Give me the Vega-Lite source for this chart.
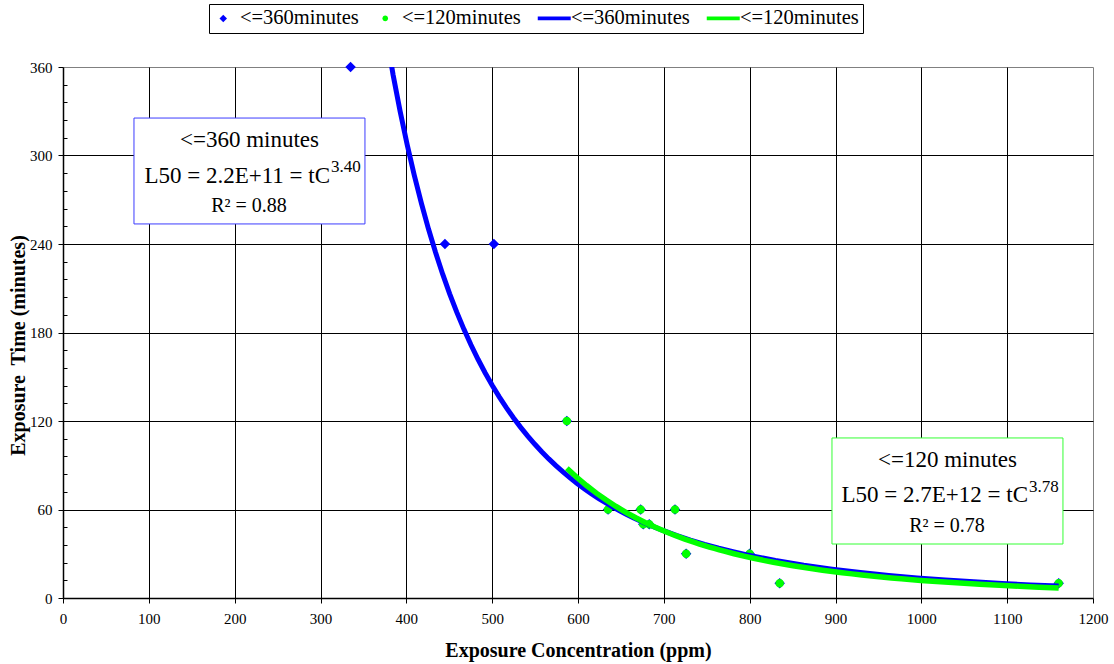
{
  "$schema": "https://vega.github.io/schema/vega-lite/v6.json",
  "width": 1030,
  "height": 531,
  "autosize": {"type": "none"},
  "padding": {"left": 63, "top": 67, "right": 21, "bottom": 66},
  "background": "white",
  "config": {
    "font": "Liberation Serif",
    "view": {"stroke": "#808080", "strokeWidth": 1},
    "text": {"font": "Liberation Serif", "color": "black", "baseline": "alphabetic"},
    "legend": {"labelFont": "Liberation Serif"},
    "axis": {
      "domainColor": "black",
      "domainWidth": 1.5,
      "tickColor": "black",
      "tickWidth": 1,
      "labelColor": "black",
      "titleColor": "black",
      "gridColor": "black",
      "gridWidth": 1,
      "labelFont": "Liberation Serif",
      "titleFont": "Liberation Serif",
      "labelFontSize": 15,
      "titleFontSize": 20,
      "titleFontWeight": "bold",
      "labelFlush": false
    }
  },
  "datasets": {
    "tox": [
      {"c": 335, "t": 360, "series": "pts360", "fit": "fit360"},
      {"c": 445, "t": 240, "series": "pts360", "fit": "fit360"},
      {"c": 502, "t": 240, "series": "pts360", "fit": "fit360"},
      {"c": 587, "t": 120, "series": "pts360", "fit": "fit360"},
      {"c": 635, "t": 60, "series": "pts360", "fit": "fit360"},
      {"c": 673, "t": 60, "series": "pts360", "fit": "fit360"},
      {"c": 713, "t": 60, "series": "pts360", "fit": "fit360"},
      {"c": 676, "t": 50, "series": "pts360", "fit": "fit360"},
      {"c": 683, "t": 50, "series": "pts360", "fit": "fit360"},
      {"c": 726, "t": 30, "series": "pts360", "fit": "fit360"},
      {"c": 800, "t": 30, "series": "pts360", "fit": "fit360"},
      {"c": 835, "t": 10, "series": "pts360", "fit": "fit360"},
      {"c": 1160, "t": 10, "series": "pts360", "fit": "fit360"},
      {"c": 587, "t": 120, "series": "pts120", "fit": "fit120"},
      {"c": 635, "t": 60, "series": "pts120", "fit": "fit120"},
      {"c": 673, "t": 60, "series": "pts120", "fit": "fit120"},
      {"c": 713, "t": 60, "series": "pts120", "fit": "fit120"},
      {"c": 676, "t": 50, "series": "pts120", "fit": "fit120"},
      {"c": 683, "t": 50, "series": "pts120", "fit": "fit120"},
      {"c": 726, "t": 30, "series": "pts120", "fit": "fit120"},
      {"c": 800, "t": 30, "series": "pts120", "fit": "fit120"},
      {"c": 835, "t": 10, "series": "pts120", "fit": "fit120"},
      {"c": 1160, "t": 10, "series": "pts120", "fit": "fit120"}
    ],
    "note": [{"note": "fit"}]
  },
  "layer": [
    {
      "data": {"name": "tox"},
      "transform": [{"filter": "datum.series === 'pts360'"}],
      "mark": {"type": "point", "filled": true, "opacity": 1, "size": 784, "strokeWidth": 0},
      "encoding": {
        "x": {"field": "c", "type": "quantitative", "title": "Exposure Concentration (ppm)", "scale": {"domain": [0, 1200], "nice": false, "zero": false},
          "axis": {"values": [0, 100, 200, 300, 400, 500, 600, 700, 800, 900, 1000, 1100, 1200], "format": "d", "tickSize": 5, "labelPadding": 8, "titlePadding": 14, "gridOpacity": {"condition": {"test": "datum.value > 0 && datum.value < 1200", "value": 1}, "value": 0}}},
        "y": {"field": "t", "type": "quantitative", "title": "Exposure\u00a0 Time (minutes)", "scale": {"domain": [0, 360], "nice": false, "zero": false},
          "axis": {"values": [0, 12, 24, 36, 48, 60, 72, 84, 96, 108, 120, 132, 144, 156, 168, 180, 192, 204, 216, 228, 240, 252, 264, 276, 288, 300, 312, 324, 336, 348, 360], "labelExpr": "datum.value % 60 === 0 ? datum.label : ''", "labelOverlap": false, "tickSize": {"condition": {"test": "datum.value % 60 === 0", "value": 5}, "value": -4}, "labelPadding": 6, "gridOpacity": {"condition": {"test": "datum.value % 60 === 0 && datum.value > 0 && datum.value < 360", "value": 1}, "value": 0}, "titleX": -39, "titleY": 278, "titleAlign": "center", "titleBaseline": "alphabetic", "titleAngle": -90}},
        "color": {
          "field": "series", "type": "nominal",
          "scale": {"domain": ["pts360", "pts120", "fit360", "fit120"], "range": ["#0000FF", "#00FF00", "#0000FF", "#00FF00"]},
          "legend": {
            "title": null, "orient": "none", "legendX": 146, "legendY": -63, "direction": "horizontal",
            "labelExpr": "datum.value === 'pts360' || datum.value === 'fit360' ? '<=360minutes' : '<=120minutes'",
            "labelFont": "Liberation Serif", "labelFontSize": 20.5, "labelColor": "black",
            "symbolSize": 400, "symbolStrokeWidth": 0, "symbolOpacity": 1,
            "labelOffset": 6.5, "columnPadding": 16, "padding": 4,
            "strokeColor": "black", "fillColor": "white",
            "encode": {"symbols": {"update": {"fill": {"scale": "color", "field": "value"}, "stroke": {"value": "transparent"}, "opacity": {"value": 1}}}}
          }
        },
        "shape": {
          "field": "series", "type": "nominal",
          "scale": {"domain": ["pts360", "pts120", "fit360", "fit120"], "range": ["M-0.375,0L0,-0.375L0.375,0L0,0.375Z", "M-0.28,0A0.28,0.28,0,1,1,0.28,0A0.28,0.28,0,1,1,-0.28,0Z", "M-1.65,-0.19H1.65V0.19H-1.65Z", "M-1.65,-0.19H1.65V0.19H-1.65Z"]},
          "legend": {
            "title": null, "orient": "none", "legendX": 146, "legendY": -63, "direction": "horizontal",
            "labelExpr": "datum.value === 'pts360' || datum.value === 'fit360' ? '<=360minutes' : '<=120minutes'",
            "labelFont": "Liberation Serif", "labelFontSize": 20.5, "labelColor": "black",
            "symbolSize": 400, "symbolStrokeWidth": 0, "symbolOpacity": 1,
            "labelOffset": 6.5, "columnPadding": 16, "padding": 4,
            "strokeColor": "black", "fillColor": "white",
            "encode": {"symbols": {"update": {"fill": {"scale": "color", "field": "value"}, "stroke": {"value": "transparent"}, "opacity": {"value": 1}}}}
          }
        }
      }
    },
    {
      "data": {"name": "tox"},
      "transform": [{"filter": "datum.series === 'pts120'"}],
      "mark": {"type": "point", "filled": true, "opacity": 1, "size": 922, "strokeWidth": 0},
      "encoding": {
        "x": {"field": "c", "type": "quantitative", "title": "Exposure Concentration (ppm)", "scale": {"domain": [0, 1200], "nice": false, "zero": false},
          "axis": {"values": [0, 100, 200, 300, 400, 500, 600, 700, 800, 900, 1000, 1100, 1200], "format": "d", "tickSize": 5, "labelPadding": 8, "titlePadding": 14, "gridOpacity": {"condition": {"test": "datum.value > 0 && datum.value < 1200", "value": 1}, "value": 0}}},
        "y": {"field": "t", "type": "quantitative", "title": "Exposure\u00a0 Time (minutes)", "scale": {"domain": [0, 360], "nice": false, "zero": false},
          "axis": {"values": [0, 12, 24, 36, 48, 60, 72, 84, 96, 108, 120, 132, 144, 156, 168, 180, 192, 204, 216, 228, 240, 252, 264, 276, 288, 300, 312, 324, 336, 348, 360], "labelExpr": "datum.value % 60 === 0 ? datum.label : ''", "labelOverlap": false, "tickSize": {"condition": {"test": "datum.value % 60 === 0", "value": 5}, "value": -4}, "labelPadding": 6, "gridOpacity": {"condition": {"test": "datum.value % 60 === 0 && datum.value > 0 && datum.value < 360", "value": 1}, "value": 0}, "titleX": -39, "titleY": 278, "titleAlign": "center", "titleBaseline": "alphabetic", "titleAngle": -90}},
        "color": {
          "field": "series", "type": "nominal",
          "scale": {"domain": ["pts360", "pts120", "fit360", "fit120"], "range": ["#0000FF", "#00FF00", "#0000FF", "#00FF00"]}
        },
        "shape": {
          "field": "series", "type": "nominal",
          "scale": {"domain": ["pts360", "pts120", "fit360", "fit120"], "range": ["M-0.375,0L0,-0.375L0.375,0L0,0.375Z", "M-0.28,0A0.28,0.28,0,1,1,0.28,0A0.28,0.28,0,1,1,-0.28,0Z", "M-1.65,-0.19H1.65V0.19H-1.65Z", "M-1.65,-0.19H1.65V0.19H-1.65Z"]}
        }
      }
    },
    {
      "data": {"name": "tox"},
      "transform": [
        {"filter": "datum.fit === 'fit360'"},
        {"regression": "t", "on": "c", "method": "pow", "groupby": ["fit"]}
      ],
      "mark": {"type": "line", "strokeWidth": 5, "clip": true},
      "encoding": {
        "x": {"field": "c", "type": "quantitative", "title": "Exposure Concentration (ppm)", "scale": {"domain": [0, 1200], "nice": false, "zero": false},
          "axis": {"values": [0, 100, 200, 300, 400, 500, 600, 700, 800, 900, 1000, 1100, 1200], "format": "d", "tickSize": 5, "labelPadding": 8, "titlePadding": 14, "gridOpacity": {"condition": {"test": "datum.value > 0 && datum.value < 1200", "value": 1}, "value": 0}}},
        "y": {"field": "t", "type": "quantitative", "title": "Exposure\u00a0 Time (minutes)", "scale": {"domain": [0, 360], "nice": false, "zero": false},
          "axis": {"values": [0, 12, 24, 36, 48, 60, 72, 84, 96, 108, 120, 132, 144, 156, 168, 180, 192, 204, 216, 228, 240, 252, 264, 276, 288, 300, 312, 324, 336, 348, 360], "labelExpr": "datum.value % 60 === 0 ? datum.label : ''", "labelOverlap": false, "tickSize": {"condition": {"test": "datum.value % 60 === 0", "value": 5}, "value": -4}, "labelPadding": 6, "gridOpacity": {"condition": {"test": "datum.value % 60 === 0 && datum.value > 0 && datum.value < 360", "value": 1}, "value": 0}, "titleX": -39, "titleY": 278, "titleAlign": "center", "titleBaseline": "alphabetic", "titleAngle": -90}},
        "color": {
          "field": "fit", "type": "nominal",
          "scale": {"domain": ["pts360", "pts120", "fit360", "fit120"], "range": ["#0000FF", "#00FF00", "#0000FF", "#00FF00"]}
        }
      }
    },
    {
      "data": {"name": "tox"},
      "transform": [
        {"filter": "datum.fit === 'fit120'"},
        {"regression": "t", "on": "c", "method": "pow", "groupby": ["fit"]}
      ],
      "mark": {"type": "line", "strokeWidth": 5.5, "clip": true},
      "encoding": {
        "x": {"field": "c", "type": "quantitative", "title": "Exposure Concentration (ppm)", "scale": {"domain": [0, 1200], "nice": false, "zero": false},
          "axis": {"values": [0, 100, 200, 300, 400, 500, 600, 700, 800, 900, 1000, 1100, 1200], "format": "d", "tickSize": 5, "labelPadding": 8, "titlePadding": 14, "gridOpacity": {"condition": {"test": "datum.value > 0 && datum.value < 1200", "value": 1}, "value": 0}}},
        "y": {"field": "t", "type": "quantitative", "title": "Exposure\u00a0 Time (minutes)", "scale": {"domain": [0, 360], "nice": false, "zero": false},
          "axis": {"values": [0, 12, 24, 36, 48, 60, 72, 84, 96, 108, 120, 132, 144, 156, 168, 180, 192, 204, 216, 228, 240, 252, 264, 276, 288, 300, 312, 324, 336, 348, 360], "labelExpr": "datum.value % 60 === 0 ? datum.label : ''", "labelOverlap": false, "tickSize": {"condition": {"test": "datum.value % 60 === 0", "value": 5}, "value": -4}, "labelPadding": 6, "gridOpacity": {"condition": {"test": "datum.value % 60 === 0 && datum.value > 0 && datum.value < 360", "value": 1}, "value": 0}, "titleX": -39, "titleY": 278, "titleAlign": "center", "titleBaseline": "alphabetic", "titleAngle": -90}},
        "color": {
          "field": "fit", "type": "nominal",
          "scale": {"domain": ["pts360", "pts120", "fit360", "fit120"], "range": ["#0000FF", "#00FF00", "#0000FF", "#00FF00"]}
        }
      }
    },
    {
      "data": {"name": "note"},
      "mark": {"type": "rect", "fill": "white", "stroke": "#3c3cff", "strokeWidth": 1},
      "encoding": {
        "x": {"datum": 82.7, "type": "quantitative", "title": "Exposure Concentration (ppm)", "scale": {"domain": [0, 1200], "nice": false, "zero": false},
          "axis": {"values": [0, 100, 200, 300, 400, 500, 600, 700, 800, 900, 1000, 1100, 1200], "format": "d", "tickSize": 5, "labelPadding": 8, "titlePadding": 14, "gridOpacity": {"condition": {"test": "datum.value > 0 && datum.value < 1200", "value": 1}, "value": 0}}},
        "x2": {"datum": 351.8},
        "y": {"datum": 325.4, "type": "quantitative", "title": "Exposure\u00a0 Time (minutes)", "scale": {"domain": [0, 360], "nice": false, "zero": false},
          "axis": {"values": [0, 12, 24, 36, 48, 60, 72, 84, 96, 108, 120, 132, 144, 156, 168, 180, 192, 204, 216, 228, 240, 252, 264, 276, 288, 300, 312, 324, 336, 348, 360], "labelExpr": "datum.value % 60 === 0 ? datum.label : ''", "labelOverlap": false, "tickSize": {"condition": {"test": "datum.value % 60 === 0", "value": 5}, "value": -4}, "labelPadding": 6, "gridOpacity": {"condition": {"test": "datum.value % 60 === 0 && datum.value > 0 && datum.value < 360", "value": 1}, "value": 0}, "titleX": -39, "titleY": 278, "titleAlign": "center", "titleBaseline": "alphabetic", "titleAngle": -90}},
        "y2": {"datum": 253.6}
      }
    },
    {
      "data": {"name": "note"},
      "mark": {"type": "rect", "fill": "white", "stroke": "#33ff33", "strokeWidth": 1},
      "encoding": {
        "x": {"datum": 895.9, "type": "quantitative", "title": "Exposure Concentration (ppm)", "scale": {"domain": [0, 1200], "nice": false, "zero": false},
          "axis": {"values": [0, 100, 200, 300, 400, 500, 600, 700, 800, 900, 1000, 1100, 1200], "format": "d", "tickSize": 5, "labelPadding": 8, "titlePadding": 14, "gridOpacity": {"condition": {"test": "datum.value > 0 && datum.value < 1200", "value": 1}, "value": 0}}},
        "x2": {"datum": 1165},
        "y": {"datum": 108.5, "type": "quantitative", "title": "Exposure\u00a0 Time (minutes)", "scale": {"domain": [0, 360], "nice": false, "zero": false},
          "axis": {"values": [0, 12, 24, 36, 48, 60, 72, 84, 96, 108, 120, 132, 144, 156, 168, 180, 192, 204, 216, 228, 240, 252, 264, 276, 288, 300, 312, 324, 336, 348, 360], "labelExpr": "datum.value % 60 === 0 ? datum.label : ''", "labelOverlap": false, "tickSize": {"condition": {"test": "datum.value % 60 === 0", "value": 5}, "value": -4}, "labelPadding": 6, "gridOpacity": {"condition": {"test": "datum.value % 60 === 0 && datum.value > 0 && datum.value < 360", "value": 1}, "value": 0}, "titleX": -39, "titleY": 278, "titleAlign": "center", "titleBaseline": "alphabetic", "titleAngle": -90}},
        "y2": {"datum": 36.6}
      }
    },
    {
      "data": {"name": "note"},
      "mark": {"type": "text", "text": "<=360 minutes", "fontSize": 23, "align": "center"},
      "encoding": {
        "x": {"datum": 217.3, "type": "quantitative", "title": "Exposure Concentration (ppm)", "scale": {"domain": [0, 1200], "nice": false, "zero": false},
          "axis": {"values": [0, 100, 200, 300, 400, 500, 600, 700, 800, 900, 1000, 1100, 1200], "format": "d", "tickSize": 5, "labelPadding": 8, "titlePadding": 14, "gridOpacity": {"condition": {"test": "datum.value > 0 && datum.value < 1200", "value": 1}, "value": 0}}},
        "y": {"datum": 305.8, "type": "quantitative", "title": "Exposure\u00a0 Time (minutes)", "scale": {"domain": [0, 360], "nice": false, "zero": false},
          "axis": {"values": [0, 12, 24, 36, 48, 60, 72, 84, 96, 108, 120, 132, 144, 156, 168, 180, 192, 204, 216, 228, 240, 252, 264, 276, 288, 300, 312, 324, 336, 348, 360], "labelExpr": "datum.value % 60 === 0 ? datum.label : ''", "labelOverlap": false, "tickSize": {"condition": {"test": "datum.value % 60 === 0", "value": 5}, "value": -4}, "labelPadding": 6, "gridOpacity": {"condition": {"test": "datum.value % 60 === 0 && datum.value > 0 && datum.value < 360", "value": 1}, "value": 0}, "titleX": -39, "titleY": 278, "titleAlign": "center", "titleBaseline": "alphabetic", "titleAngle": -90}}
      }
    },
    {
      "data": {"name": "note"},
      "mark": {"type": "text", "text": "L50 = 2.2E+11 = tC", "fontSize": 23, "align": "right"},
      "encoding": {
        "x": {"datum": 311.1, "type": "quantitative", "title": "Exposure Concentration (ppm)", "scale": {"domain": [0, 1200], "nice": false, "zero": false},
          "axis": {"values": [0, 100, 200, 300, 400, 500, 600, 700, 800, 900, 1000, 1100, 1200], "format": "d", "tickSize": 5, "labelPadding": 8, "titlePadding": 14, "gridOpacity": {"condition": {"test": "datum.value > 0 && datum.value < 1200", "value": 1}, "value": 0}}},
        "y": {"datum": 281.6, "type": "quantitative", "title": "Exposure\u00a0 Time (minutes)", "scale": {"domain": [0, 360], "nice": false, "zero": false},
          "axis": {"values": [0, 12, 24, 36, 48, 60, 72, 84, 96, 108, 120, 132, 144, 156, 168, 180, 192, 204, 216, 228, 240, 252, 264, 276, 288, 300, 312, 324, 336, 348, 360], "labelExpr": "datum.value % 60 === 0 ? datum.label : ''", "labelOverlap": false, "tickSize": {"condition": {"test": "datum.value % 60 === 0", "value": 5}, "value": -4}, "labelPadding": 6, "gridOpacity": {"condition": {"test": "datum.value % 60 === 0 && datum.value > 0 && datum.value < 360", "value": 1}, "value": 0}, "titleX": -39, "titleY": 278, "titleAlign": "center", "titleBaseline": "alphabetic", "titleAngle": -90}}
      }
    },
    {
      "data": {"name": "note"},
      "mark": {"type": "text", "text": "3.40", "fontSize": 17, "align": "left"},
      "encoding": {
        "x": {"datum": 312.2, "type": "quantitative", "title": "Exposure Concentration (ppm)", "scale": {"domain": [0, 1200], "nice": false, "zero": false},
          "axis": {"values": [0, 100, 200, 300, 400, 500, 600, 700, 800, 900, 1000, 1100, 1200], "format": "d", "tickSize": 5, "labelPadding": 8, "titlePadding": 14, "gridOpacity": {"condition": {"test": "datum.value > 0 && datum.value < 1200", "value": 1}, "value": 0}}},
        "y": {"datum": 288.8, "type": "quantitative", "title": "Exposure\u00a0 Time (minutes)", "scale": {"domain": [0, 360], "nice": false, "zero": false},
          "axis": {"values": [0, 12, 24, 36, 48, 60, 72, 84, 96, 108, 120, 132, 144, 156, 168, 180, 192, 204, 216, 228, 240, 252, 264, 276, 288, 300, 312, 324, 336, 348, 360], "labelExpr": "datum.value % 60 === 0 ? datum.label : ''", "labelOverlap": false, "tickSize": {"condition": {"test": "datum.value % 60 === 0", "value": 5}, "value": -4}, "labelPadding": 6, "gridOpacity": {"condition": {"test": "datum.value % 60 === 0 && datum.value > 0 && datum.value < 360", "value": 1}, "value": 0}, "titleX": -39, "titleY": 278, "titleAlign": "center", "titleBaseline": "alphabetic", "titleAngle": -90}}
      }
    },
    {
      "data": {"name": "note"},
      "mark": {"type": "text", "text": "R² = 0.88", "fontSize": 20, "align": "center"},
      "encoding": {
        "x": {"datum": 216.7, "type": "quantitative", "title": "Exposure Concentration (ppm)", "scale": {"domain": [0, 1200], "nice": false, "zero": false},
          "axis": {"values": [0, 100, 200, 300, 400, 500, 600, 700, 800, 900, 1000, 1100, 1200], "format": "d", "tickSize": 5, "labelPadding": 8, "titlePadding": 14, "gridOpacity": {"condition": {"test": "datum.value > 0 && datum.value < 1200", "value": 1}, "value": 0}}},
        "y": {"datum": 262, "type": "quantitative", "title": "Exposure\u00a0 Time (minutes)", "scale": {"domain": [0, 360], "nice": false, "zero": false},
          "axis": {"values": [0, 12, 24, 36, 48, 60, 72, 84, 96, 108, 120, 132, 144, 156, 168, 180, 192, 204, 216, 228, 240, 252, 264, 276, 288, 300, 312, 324, 336, 348, 360], "labelExpr": "datum.value % 60 === 0 ? datum.label : ''", "labelOverlap": false, "tickSize": {"condition": {"test": "datum.value % 60 === 0", "value": 5}, "value": -4}, "labelPadding": 6, "gridOpacity": {"condition": {"test": "datum.value % 60 === 0 && datum.value > 0 && datum.value < 360", "value": 1}, "value": 0}, "titleX": -39, "titleY": 278, "titleAlign": "center", "titleBaseline": "alphabetic", "titleAngle": -90}}
      }
    },
    {
      "data": {"name": "note"},
      "mark": {"type": "text", "text": "<=120 minutes", "fontSize": 23, "align": "center"},
      "encoding": {
        "x": {"datum": 1030.5, "type": "quantitative", "title": "Exposure Concentration (ppm)", "scale": {"domain": [0, 1200], "nice": false, "zero": false},
          "axis": {"values": [0, 100, 200, 300, 400, 500, 600, 700, 800, 900, 1000, 1100, 1200], "format": "d", "tickSize": 5, "labelPadding": 8, "titlePadding": 14, "gridOpacity": {"condition": {"test": "datum.value > 0 && datum.value < 1200", "value": 1}, "value": 0}}},
        "y": {"datum": 88.8, "type": "quantitative", "title": "Exposure\u00a0 Time (minutes)", "scale": {"domain": [0, 360], "nice": false, "zero": false},
          "axis": {"values": [0, 12, 24, 36, 48, 60, 72, 84, 96, 108, 120, 132, 144, 156, 168, 180, 192, 204, 216, 228, 240, 252, 264, 276, 288, 300, 312, 324, 336, 348, 360], "labelExpr": "datum.value % 60 === 0 ? datum.label : ''", "labelOverlap": false, "tickSize": {"condition": {"test": "datum.value % 60 === 0", "value": 5}, "value": -4}, "labelPadding": 6, "gridOpacity": {"condition": {"test": "datum.value % 60 === 0 && datum.value > 0 && datum.value < 360", "value": 1}, "value": 0}, "titleX": -39, "titleY": 278, "titleAlign": "center", "titleBaseline": "alphabetic", "titleAngle": -90}}
      }
    },
    {
      "data": {"name": "note"},
      "mark": {"type": "text", "text": "L50 = 2.7E+12 = tC", "fontSize": 23, "align": "right"},
      "encoding": {
        "x": {"datum": 1124.3, "type": "quantitative", "title": "Exposure Concentration (ppm)", "scale": {"domain": [0, 1200], "nice": false, "zero": false},
          "axis": {"values": [0, 100, 200, 300, 400, 500, 600, 700, 800, 900, 1000, 1100, 1200], "format": "d", "tickSize": 5, "labelPadding": 8, "titlePadding": 14, "gridOpacity": {"condition": {"test": "datum.value > 0 && datum.value < 1200", "value": 1}, "value": 0}}},
        "y": {"datum": 65.1, "type": "quantitative", "title": "Exposure\u00a0 Time (minutes)", "scale": {"domain": [0, 360], "nice": false, "zero": false},
          "axis": {"values": [0, 12, 24, 36, 48, 60, 72, 84, 96, 108, 120, 132, 144, 156, 168, 180, 192, 204, 216, 228, 240, 252, 264, 276, 288, 300, 312, 324, 336, 348, 360], "labelExpr": "datum.value % 60 === 0 ? datum.label : ''", "labelOverlap": false, "tickSize": {"condition": {"test": "datum.value % 60 === 0", "value": 5}, "value": -4}, "labelPadding": 6, "gridOpacity": {"condition": {"test": "datum.value % 60 === 0 && datum.value > 0 && datum.value < 360", "value": 1}, "value": 0}, "titleX": -39, "titleY": 278, "titleAlign": "center", "titleBaseline": "alphabetic", "titleAngle": -90}}
      }
    },
    {
      "data": {"name": "note"},
      "mark": {"type": "text", "text": "3.78", "fontSize": 17, "align": "left"},
      "encoding": {
        "x": {"datum": 1125.4, "type": "quantitative", "title": "Exposure Concentration (ppm)", "scale": {"domain": [0, 1200], "nice": false, "zero": false},
          "axis": {"values": [0, 100, 200, 300, 400, 500, 600, 700, 800, 900, 1000, 1100, 1200], "format": "d", "tickSize": 5, "labelPadding": 8, "titlePadding": 14, "gridOpacity": {"condition": {"test": "datum.value > 0 && datum.value < 1200", "value": 1}, "value": 0}}},
        "y": {"datum": 71.9, "type": "quantitative", "title": "Exposure\u00a0 Time (minutes)", "scale": {"domain": [0, 360], "nice": false, "zero": false},
          "axis": {"values": [0, 12, 24, 36, 48, 60, 72, 84, 96, 108, 120, 132, 144, 156, 168, 180, 192, 204, 216, 228, 240, 252, 264, 276, 288, 300, 312, 324, 336, 348, 360], "labelExpr": "datum.value % 60 === 0 ? datum.label : ''", "labelOverlap": false, "tickSize": {"condition": {"test": "datum.value % 60 === 0", "value": 5}, "value": -4}, "labelPadding": 6, "gridOpacity": {"condition": {"test": "datum.value % 60 === 0 && datum.value > 0 && datum.value < 360", "value": 1}, "value": 0}, "titleX": -39, "titleY": 278, "titleAlign": "center", "titleBaseline": "alphabetic", "titleAngle": -90}}
      }
    },
    {
      "data": {"name": "note"},
      "mark": {"type": "text", "text": "R² = 0.78", "fontSize": 20, "align": "center"},
      "encoding": {
        "x": {"datum": 1029.9, "type": "quantitative", "title": "Exposure Concentration (ppm)", "scale": {"domain": [0, 1200], "nice": false, "zero": false},
          "axis": {"values": [0, 100, 200, 300, 400, 500, 600, 700, 800, 900, 1000, 1100, 1200], "format": "d", "tickSize": 5, "labelPadding": 8, "titlePadding": 14, "gridOpacity": {"condition": {"test": "datum.value > 0 && datum.value < 1200", "value": 1}, "value": 0}}},
        "y": {"datum": 45, "type": "quantitative", "title": "Exposure\u00a0 Time (minutes)", "scale": {"domain": [0, 360], "nice": false, "zero": false},
          "axis": {"values": [0, 12, 24, 36, 48, 60, 72, 84, 96, 108, 120, 132, 144, 156, 168, 180, 192, 204, 216, 228, 240, 252, 264, 276, 288, 300, 312, 324, 336, 348, 360], "labelExpr": "datum.value % 60 === 0 ? datum.label : ''", "labelOverlap": false, "tickSize": {"condition": {"test": "datum.value % 60 === 0", "value": 5}, "value": -4}, "labelPadding": 6, "gridOpacity": {"condition": {"test": "datum.value % 60 === 0 && datum.value > 0 && datum.value < 360", "value": 1}, "value": 0}, "titleX": -39, "titleY": 278, "titleAlign": "center", "titleBaseline": "alphabetic", "titleAngle": -90}}
      }
    }
  ]
}
